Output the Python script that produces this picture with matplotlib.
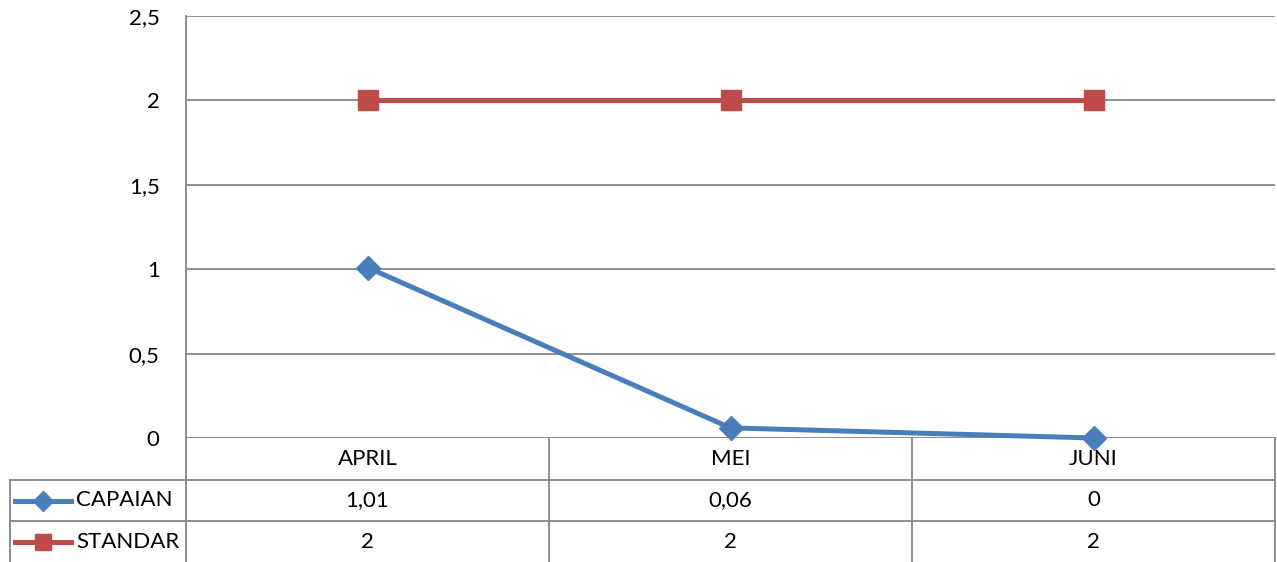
import matplotlib
matplotlib.use("Agg")
import matplotlib.pyplot as plt
from matplotlib.transforms import blended_transform_factory
from matplotlib.lines import Line2D

plt.rcParams['font.family'] = ['Lato', 'DejaVu Sans']

categories = ["APRIL", "MEI", "JUNI"]
capaian = [1.01, 0.06, 0.0]
standar = [2, 2, 2]
capaian_labels = ["1,01", "0,06", "0"]
standar_labels = ["2", "2", "2"]
yticks = [0, 0.5, 1, 1.5, 2, 2.5]
ytick_labels = ["0", "0,5", "1", "1,5", "2", "2,5"]

W, H = 1277, 562
fig = plt.figure(figsize=(W / 100, H / 100), dpi=100)
L, R, T, B = 186, 1275, 16, 438
ax = fig.add_axes([L / W, (H - B) / H, (R - L) / W, (B - T) / H])

blue = "#4A7EBB"
red = "#BE4B48"
grid = "#868686"
FS = 16

x = list(range(len(categories)))
ax.plot(x, capaian, color=blue, lw=3.6, marker="D", ms=12, zorder=3, clip_on=False)
ax.plot(x, standar, color=red, lw=3.6, marker="s", ms=14, zorder=3, clip_on=False)

ax.set_xlim(-0.5, len(categories) - 0.5)
ax.set_ylim(0, 2.5)
ax.set_yticks(yticks)
ax.set_yticklabels(ytick_labels, fontsize=FS)
ax.tick_params(axis="y", length=0, pad=19)
ax.set_xticks([])
for yv in yticks:
    ax.axhline(yv, color=grid, lw=1.3, zorder=1)
for s in ["top", "right", "bottom"]:
    ax.spines[s].set_visible(False)
ax.spines["left"].set_color(grid)
ax.spines["left"].set_linewidth(1.3)

# table
ph = B - T
def ya(py):
    return -(py - B) / ph

tr = blended_transform_factory(ax.transData, ax.transAxes)
px_per_unit = (R - L) / len(categories)
x_left = -0.5 - (L - 10) / px_per_unit

lkw = dict(color=grid, lw=1.3, transform=tr, clip_on=False)
for i in range(len(categories) + 1):
    xv = -0.5 + i
    ax.add_line(Line2D([xv, xv], [ya(438), ya(562)], **lkw))
ax.add_line(Line2D([x_left, x_left], [ya(480), ya(562)], **lkw))
for py in [480, 521]:
    ax.add_line(Line2D([x_left, len(categories) - 0.5], [ya(py), ya(py)], **lkw))

for i, c in enumerate(categories):
    ax.text(i, ya((438 + 480) / 2), c, transform=tr, ha="center", va="center", fontsize=FS)
    ax.text(i, ya((480 + 521) / 2), capaian_labels[i], transform=tr, ha="center", va="center", fontsize=FS)
    ax.text(i, ya((521 + 562) / 2), standar_labels[i], transform=tr, ha="center", va="center", fontsize=FS)

# legend keys
k0 = x_left + 5 / px_per_unit
k1 = x_left + 61 / px_per_unit
km = (k0 + k1) / 2
for (py0, py1), col, mk, ms, name in [((480, 521), blue, "D", 10, "CAPAIAN"),
                                      ((521, 562), red, "s", 12, "STANDAR")]:
    yc = ya((py0 + py1) / 2)
    ax.add_line(Line2D([k0, k1], [yc, yc], color=col, lw=3.6, transform=tr, clip_on=False))
    ax.add_line(Line2D([km], [yc], color=col, marker=mk, ms=ms, transform=tr, clip_on=False))
    ax.text(x_left + 66 / px_per_unit, yc, name, transform=tr, ha="left", va="center", fontsize=FS)

fig.savefig("out.png", dpi=100)
